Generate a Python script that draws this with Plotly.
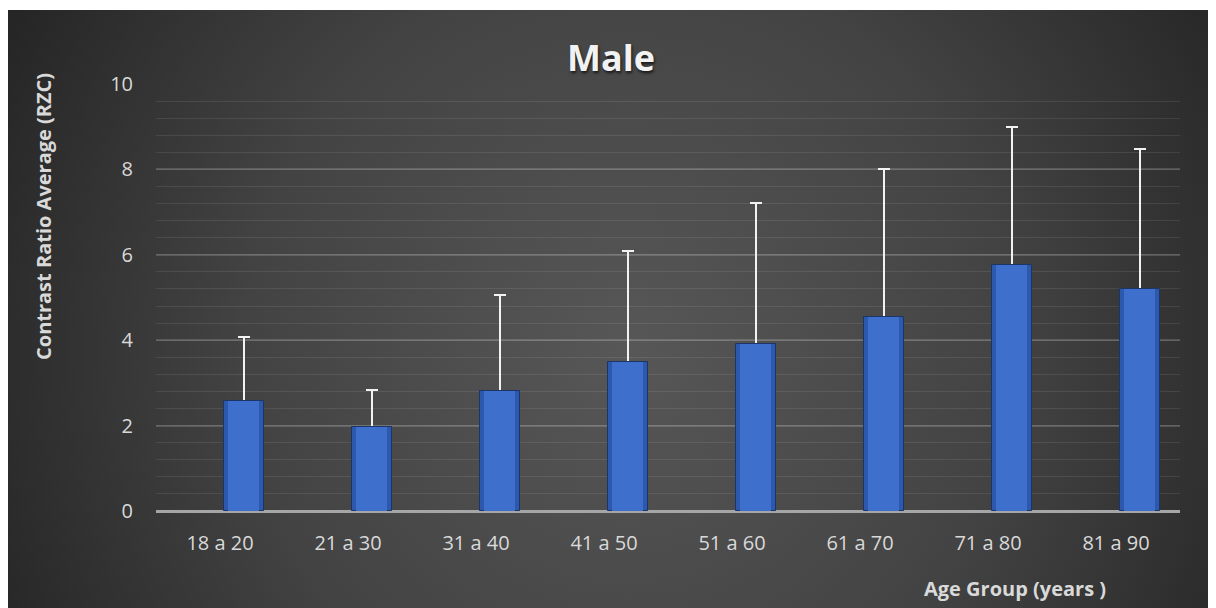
import base64
import plotly.graph_objects as go

categories = ["18 a 20", "21 a 30", "31 a 40", "41 a 50", "51 a 60", "61 a 70", "71 a 80", "81 a 90"]
means = [2.57, 1.96, 2.82, 3.48, 3.91, 4.55, 5.77, 5.20]
err_plus = [1.51, 0.88, 2.23, 2.60, 3.31, 3.46, 3.22, 3.27]
err_minus = [0.04] * len(categories)
y_ticks = [0, 2, 4, 6, 8, 10]

W, H = 1216, 608
OFF = 8  # page body margin
# plot area in reference pixel coordinates
PX0, PX1, PY0, PY1 = 156, 1180, 84, 511
L, R = PX0 - OFF, W - (PX1 - OFF)
T, B = PY0 - OFF, H - (PY1 - OFF)
pw, ph = PX1 - PX0, PY1 - PY0


def px(x):
    return (x - PX0) / pw


def py(y):
    return (PY1 - y) / ph


svg = '''<svg xmlns="http://www.w3.org/2000/svg" width="1208" height="598" viewBox="0 0 1208 598" preserveAspectRatio="none">
<defs><radialGradient id="g" gradientUnits="userSpaceOnUse" cx="610" cy="330" r="680">
<stop offset="0" stop-color="#575757"/><stop offset="0.55" stop-color="#434343"/><stop offset="1" stop-color="#262626"/>
</radialGradient></defs><rect x="0" y="0" width="1208" height="598" fill="url(#g)"/></svg>'''
src = "data:image/svg+xml;base64," + base64.b64encode(svg.encode()).decode()

bar_off, bar_w = 0.031, 0.3125
fig = go.Figure()
fig.add_trace(go.Bar(
    x=categories, y=means, offset=bar_off, width=bar_w,
    marker=dict(color="rgba(0,0,0,0)", line=dict(width=0)),
    error_y=dict(type="data", symmetric=False, array=err_plus, arrayminus=err_minus,
                 color="#f2f2f2", thickness=2, width=6),
    hoverinfo="skip", showlegend=False))
fig.add_trace(go.Bar(
    x=categories, y=means, offset=bar_off, width=bar_w,
    marker=dict(color="#2d59ad", line=dict(color="#1b3566", width=1)),
    showlegend=False))
fig.add_trace(go.Bar(
    x=categories, y=means, offset=bar_off + 0.035, width=bar_w - 0.07,
    marker=dict(color="#3f6fcc", line=dict(width=0)),
    hoverinfo="skip", showlegend=False))

fig.add_layout_image(dict(
    source=src, xref="paper", yref="paper",
    x=px(8), y=py(10), sizex=(1216 - 8) / pw + 0.02, sizey=(608 - 10) / ph + 0.05,
    sizing="stretch", xanchor="left", yanchor="top", layer="below"))

tick_font = dict(family="Open Sans", size=20, color="#d9d9d9")
fig.update_layout(
    width=W, height=H, margin=dict(l=L, r=R, t=T, b=B),
    paper_bgcolor="white", plot_bgcolor="rgba(0,0,0,0)",
    barmode="overlay", bargap=0,
    xaxis=dict(type="category", range=[-0.5, len(categories) - 0.5],
               showgrid=False, showline=False, zeroline=False,
               tickfont=tick_font, ticks="", ticklabelstandoff=18),
    yaxis=dict(range=[0, 10], tickvals=y_ticks, tickfont=tick_font,
               showgrid=True, gridcolor="rgba(255,255,255,0.16)", gridwidth=1.5,
               minor=dict(dtick=0.4, showgrid=True, gridcolor="rgba(255,255,255,0.09)", gridwidth=1),
               zeroline=True, zerolinecolor="#a6a6a6", zerolinewidth=2.5,
               showline=False, ticks="", ticklabelstandoff=22),
    font=dict(family="Open Sans", color="#d9d9d9"),
)

shadow = "1px 2px 3px rgba(0,0,0,0.7)"
fig.add_annotation(text="<b>Male</b>", xref="paper", yref="paper",
                   x=px(611), y=py(58), xanchor="center", yanchor="middle",
                   showarrow=False,
                   font=dict(family="Open Sans", size=36, color="#f2f2f2", shadow=shadow))
fig.add_annotation(text="<b>Contrast Ratio Average (RZC)</b>", xref="paper", yref="paper",
                   x=px(43), y=py(217), xanchor="center", yanchor="middle",
                   textangle=-90, showarrow=False,
                   font=dict(family="Open Sans", size=20, color="#d9d9d9"))
fig.add_annotation(text="<b>Age Group (years )</b>", xref="paper", yref="paper",
                   x=px(1015), y=py(588), xanchor="center", yanchor="middle",
                   showarrow=False,
                   font=dict(family="Open Sans", size=20, color="#d9d9d9"))

fig.write_html("out.html")
